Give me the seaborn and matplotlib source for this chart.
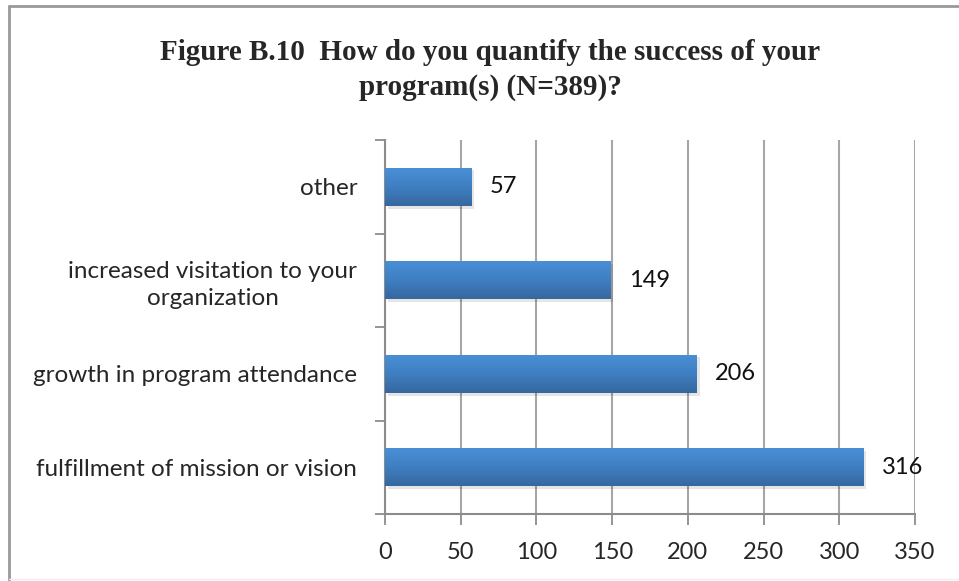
import matplotlib
matplotlib.use("Agg")
import matplotlib.pyplot as plt
import matplotlib.patheffects as pe
from matplotlib.lines import Line2D
from matplotlib.ticker import FixedLocator
import numpy as np
import pandas as pd
import seaborn as sns

categories = [
    "other",
    "increased visitation to your\norganization",
    "growth in program attendance",
    "fulfillment of mission or vision",
]
counts = [57, 149, 206, 316]
x_ticks = [0, 50, 100, 150, 200, 250, 300, 350]
title = "Figure B.10  How do you quantify the success of your\nprogram(s) (N=389)?"

df = pd.DataFrame({"category": categories, "count": counts})

sns.set_style("white")
plt.rcParams["font.family"] = ["Lato", "DejaVu Sans"]

W, H = 959, 581
fig = plt.figure(figsize=(W / 100, H / 100), dpi=100)
ax = fig.add_axes([385 / W, 1 - 514 / H, 530 / W, 374 / H])

sns.barplot(data=df, x="count", y="category", orient="h", color="#4283c9",
            width=0.41, ax=ax, zorder=3)

# gradient fill + soft shadow on each bar
grad = np.linspace(0, 1, 64).reshape(-1, 1)
cmap = matplotlib.colors.LinearSegmentedColormap.from_list(
    "bar", ["#4a90d6", "#3f7fc2", "#36689f"])
for p in ax.patches:
    p.set_edgecolor("none")
    p.set_path_effects([pe.SimplePatchShadow(offset=(2, -2), shadow_rgbFace="#000000",
                                             alpha=0.10), pe.Normal()])
    x0, y0 = p.get_x(), p.get_y()
    w, h = p.get_width(), p.get_height()
    im = ax.imshow(grad, cmap=cmap, aspect="auto", extent=[x0, x0 + w, y0 + h, y0],
                   zorder=4, interpolation="bilinear")
    im.set_clip_path(p)

ax.set_xlim(0, 350)
ax.set_ylim(3.5, -0.5)
ax.set_xticks(x_ticks)
ax.set_xticklabels([str(t) for t in x_ticks], fontsize=17)
ax.set_xlabel("")
ax.set_ylabel("")

ax.tick_params(axis="y", length=0, pad=20, labelsize=17.5)
for lbl in ax.get_yticklabels():
    lbl.set_multialignment("center")
    lbl.set_linespacing(1.35)
ax.yaxis.set_minor_locator(FixedLocator([-0.5, 0.5, 1.5, 2.5, 3.5]))
ax.tick_params(axis="y", which="minor", length=7, width=1.3, color="#8c8c8c", left=True)
ax.tick_params(axis="x", length=8, width=1.3, color="#8c8c8c", pad=12, bottom=True)

ax.grid(axis="x", color="#a6a6a6", linewidth=1.5, zorder=0)
ax.set_axisbelow(True)
for s in ["top", "right"]:
    ax.spines[s].set_visible(False)
for s in ["left", "bottom"]:
    ax.spines[s].set_color("#8c8c8c")
    ax.spines[s].set_linewidth(1.5)

for i, v in enumerate(counts):
    ax.text(v + 12, i, str(v), va="center", ha="left", fontsize=17, color="#111111")

fig.text(490 / W, 1 - 70 / H, title, ha="center", va="center",
         family="Liberation Serif", fontweight="bold", fontsize=21, linespacing=1.4)

# chart border
fig.add_artist(Line2D([9 / W, 9 / W], [1 - 6 / H, 1 - 580 / H], color="#999999", lw=2,
                      transform=fig.transFigure))
fig.add_artist(Line2D([9 / W, 1], [1 - 6 / H, 1 - 6 / H], color="#999999", lw=2,
                      transform=fig.transFigure))
fig.add_artist(Line2D([9 / W, 1], [1 - 579 / H, 1 - 579 / H], color="#eeeeee", lw=1,
                      transform=fig.transFigure))

fig.savefig("out.png", dpi=100)
